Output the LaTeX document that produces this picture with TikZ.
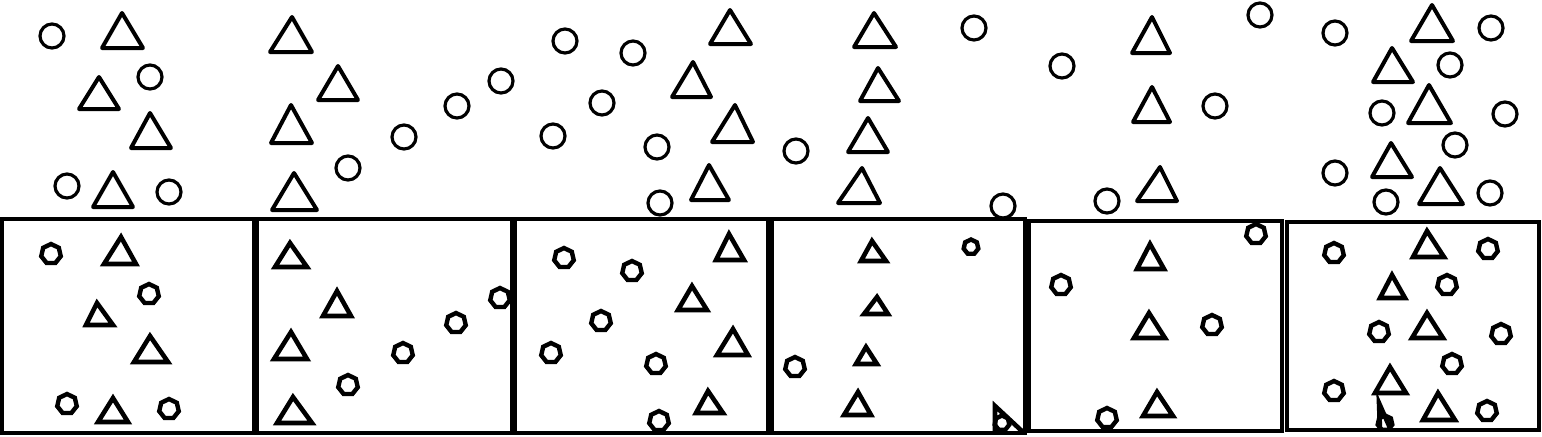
\documentclass[tikz,border=0pt]{standalone}
\usetikzlibrary{shapes.geometric}
\begin{document}
\begin{tikzpicture}[x=0.5pt,y=-0.5pt,
  tc/.style={draw,circle,line width=1.6pt,minimum size=12pt,inner sep=0pt},
  bc/.style={draw,regular polygon,regular polygon sides=7,line width=2.2pt,minimum size=10pt,inner sep=0pt},
  bcs/.style={bc,minimum size=7.5pt},
  tt/.style={draw,line width=2pt,line join=round},
  bt/.style={draw,line width=2.3pt,line join=miter},
  boxs/.style={draw,line width=2pt}]
\useasboundingbox (0,0) rectangle (1542,436);
% ---------- boxes ----------
\draw[boxs] (1.5,219) rectangle (254,433);
\draw[boxs] (257,219) rectangle (512,433);
\draw[boxs] (515,219) rectangle (768,433);
\draw[boxs] (772,219) rectangle (1025,433);
\draw[boxs] (1029,221) rectangle (1282,431);
\draw[boxs] (1287,222) rectangle (1539,430);
% ---------- top row: circles ----------
\foreach \p [count=\i] in {(52,36),(150,77),(67,186),(169,192),(501,81),(457,106),(404,137),(348,168),
  (565,41),(633,53),(602,103),(553,136),(657,147),(796,151),(660,203),(974,28),(1003,206),
  (1260,15),(1062,66),(1215,106),(1107,201),(1335,33),(1491,28),(1450,65),(1382,113),(1505,114),
  (1455,145),(1335,173),(1490,193),(1386,202)}
  \node[tc] (tc\i) at \p {};
% ---------- top row: triangles ----------
\draw[tt] (122,13) -- (102,48) -- (143,48) -- cycle;
\draw[tt] (99,77) -- (79,109) -- (119,109) -- cycle;
\draw[tt] (150,113) -- (131,148) -- (171,148) -- cycle;
\draw[tt] (113,172) -- (93,207) -- (133,207) -- cycle;
\draw[tt] (292,17) -- (270,52) -- (312,52) -- cycle;
\draw[tt] (338,66) -- (318,100) -- (358,100) -- cycle;
\draw[tt] (291,105) -- (271,143) -- (312,143) -- cycle;
\draw[tt] (294,173) -- (272,210) -- (317,210) -- cycle;
\draw[tt] (730,10) -- (710,44) -- (751,44) -- cycle;
\draw[tt] (693,62) -- (672,97) -- (711,97) -- cycle;
\draw[tt] (735,105) -- (712,142) -- (753,142) -- cycle;
\draw[tt] (709,165) -- (691,200) -- (729,200) -- cycle;
\draw[tt] (874,13) -- (854,47) -- (896,47) -- cycle;
\draw[tt] (878,68) -- (860,101) -- (899,101) -- cycle;
\draw[tt] (868,118) -- (848,152) -- (888,152) -- cycle;
\draw[tt] (862,168) -- (838,203) -- (880,203) -- cycle;
\draw[tt] (1152,17) -- (1132,53) -- (1170,53) -- cycle;
\draw[tt] (1152,87) -- (1133,122) -- (1170,122) -- cycle;
\draw[tt] (1160,167) -- (1137,201) -- (1177,201) -- cycle;
\draw[tt] (1432,5) -- (1411,41) -- (1453,41) -- cycle;
\draw[tt] (1392,48) -- (1373,82) -- (1413,82) -- cycle;
\draw[tt] (1429,85) -- (1408,123) -- (1451,123) -- cycle;
\draw[tt] (1391,143) -- (1372,177) -- (1412,177) -- cycle;
\draw[tt] (1440,168) -- (1419,204) -- (1463,204) -- cycle;
% ---------- bottom: circles ----------
\foreach \p [count=\i] in {(51,254),(149,294),(67,404),(169,409),
  (500,298),(456,323),(403,353),(348,385),
  (564,258),(632,271),(601,321),(551,353),(656,364),(659,421),
  (795,367),
  (1256,234),(1061,285),(1212,325),(1107,418),
  (1334,253),(1488,249),(1447,285),(1379,332),(1501,334),(1452,364),(1334,391),(1487,411)}
  \node[bc] (bc\i) at \p {};
\node[bcs] (bs1) at (971,247) {};
\node[bcs] (bs2) at (1002,423) {};
\node[bcs] (bs3) at (1385,423) {};
% ---------- bottom: triangles ----------
\draw[bt] (121,237) -- (104,264) -- (136,264) -- cycle;
\draw[bt] (97,303) -- (86,325) -- (113,325) -- cycle;
\draw[bt] (150,336) -- (134,362) -- (168,362) -- cycle;
\draw[bt] (113,398) -- (98,422) -- (128,422) -- cycle;
\draw[bt] (290,243) -- (275,267) -- (307,267) -- cycle;
\draw[bt] (337,291) -- (323,316) -- (351,316) -- cycle;
\draw[bt] (291,332) -- (274,359) -- (307,359) -- cycle;
\draw[bt] (293,397) -- (277,423) -- (312,423) -- cycle;
\draw[bt] (729,234) -- (716,260) -- (744,260) -- cycle;
\draw[bt] (692,286) -- (678,310) -- (707,310) -- cycle;
\draw[bt] (733,329) -- (717,355) -- (748,355) -- cycle;
\draw[bt] (708,391) -- (696,413) -- (723,413) -- cycle;
\draw[bt] (872,241) -- (861,261) -- (886,261) -- cycle;
\draw[bt] (877,297) -- (864,314) -- (888,314) -- cycle;
\draw[bt] (866,347) -- (856,364) -- (877,364) -- cycle;
\draw[bt] (858,392) -- (844,415) -- (871,415) -- cycle;
\draw[bt] (1150,244) -- (1137,269) -- (1164,269) -- cycle;
\draw[bt] (1149,313) -- (1134,338) -- (1165,338) -- cycle;
\draw[bt] (1157,392) -- (1143,416) -- (1173,416) -- cycle;
\draw[bt] (1427,231) -- (1413,257) -- (1444,257) -- cycle;
\draw[bt] (1392,275) -- (1380,298) -- (1405,298) -- cycle;
\draw[bt] (1427,313) -- (1412,338) -- (1443,338) -- cycle;
\draw[bt] (1390,367) -- (1375,393) -- (1406,393) -- cycle;
\draw[bt] (1438,393) -- (1423,420) -- (1455,420) -- cycle;
% odd fragments
\draw[bt] (995,432) -- (995,406) -- (1024,433);
\draw[bt] (1380,430) -- (1379,403) -- (1390,428);
\end{tikzpicture}
\end{document}
